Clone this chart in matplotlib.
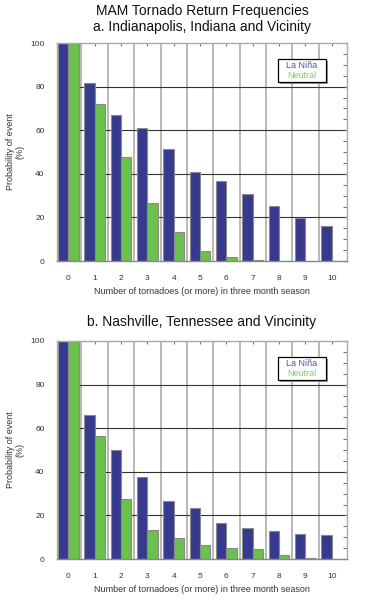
import numpy as np
import matplotlib
matplotlib.use("Agg")
import matplotlib.pyplot as plt
from matplotlib.ticker import MultipleLocator

plt.rcParams['font.family'] = ['Liberation Sans', 'DejaVu Sans']

counts = np.arange(11)
tick_labels = [str(c) for c in counts]

# Indianapolis (MAM)
indy_nina    = [100, 81.8, 67.2, 60.9, 51.2, 40.6, 36.6, 30.8, 25.3, 19.9, 16.1]
indy_neutral = [100, 71.8, 47.7, 26.7, 13.2, 4.8, 1.8, 0.6, 0, 0, 0]

# Nashville (MAM)
nash_nina    = [100, 65.9, 49.9, 37.4, 26.4, 23.2, 16.3, 14.4, 12.8, 11.3, 10.8]
nash_neutral = [100, 56.5, 27.3, 13.1, 9.5, 6.3, 5.2, 4.6, 1.8, 0.5, 0]

blue = '#363a8e'
green = '#6cc04c'
W, H = 371, 600

fig = plt.figure(figsize=(W/100, H/100), dpi=100)


def panel(top, nina, neutral):
    left, right, bottom = 57, 347, top + 218
    ax = fig.add_axes([left/W, 1 - bottom/H, (right-left)/W, 218/H])
    ax.set_xlim(-0.43, 10.58)
    ax.set_ylim(0, 100)
    # grid
    for xb in np.arange(0.5, 10, 1):
        ax.axvline(xb, color='#b8b8b8', lw=1.4, zorder=0)
    for yg in [20, 40, 60, 80]:
        ax.axhline(yg, color='#333333', lw=0.8, zorder=0)
    w = 0.39
    ax.bar(counts, nina, width=-w, align='edge', color=blue,
           edgecolor='#8a8a8a', lw=0.8, zorder=2)
    ax.bar(counts, neutral, width=w, align='edge', color=green,
           edgecolor='#8a8a8a', lw=0.8, zorder=2)
    ax.set_xticks(counts)
    ax.set_xticklabels(tick_labels)
    ax.set_yticks([0, 20, 40, 60, 80, 100])
    ax.yaxis.set_minor_locator(MultipleLocator(5))
    ax.tick_params(axis='y', which='both', direction='in', right=True,
                   labelsize=6, pad=9, length=3, color='#555555', labelcolor='#333333')
    ax.tick_params(axis='x', direction='in', top=True, bottom=False,
                   labelsize=6, pad=10, length=2.5, color='#777777', labelcolor='#333333')
    for s in ax.spines.values():
        s.set_color('#aaaaaa')
        s.set_linewidth(1.0)
    ax.spines['bottom'].set_color('#888888')
    ax.set_xlabel('Number of tornadoes (or more) in three month season',
                  fontsize=6.5, color='#333333', labelpad=4)
    ax.set_ylabel('Probability of event\n(%)', fontsize=6.5, color='#333333',
                  labelpad=4, linespacing=1.1)
    # legend box
    ax.add_patch(plt.Rectangle((0.768, 0.813), 0.166, 0.106, transform=ax.transAxes,
                               facecolor='#999999', edgecolor='none', zorder=3))
    ax.add_patch(plt.Rectangle((0.762, 0.821), 0.166, 0.106, transform=ax.transAxes,
                               facecolor='white', edgecolor='black', lw=0.9, zorder=4))
    ax.text(0.845, 0.898, 'La Niña', transform=ax.transAxes, ha='center', va='center',
            fontsize=6.5, color='#5050b0', zorder=5)
    ax.text(0.845, 0.850, 'Neutral', transform=ax.transAxes, ha='center', va='center',
            fontsize=6.5, color='#80d060', zorder=5)
    return ax


panel(43, indy_nina, indy_neutral)
panel(341, nash_nina, nash_neutral)

cx = 202 / W
fig.text(cx, 1 - 11/H, 'MAM Tornado Return Frequencies', ha='center', va='center',
         fontsize=10, color='#111111')
fig.text(cx, 1 - 27.5/H, 'a. Indianapolis, Indiana and Vicinity', ha='center', va='center',
         fontsize=10, color='#111111')
fig.text(cx, 1 - 322/H, 'b. Nashville, Tennessee and Vincinity', ha='center', va='center',
         fontsize=10, color='#111111')

fig.savefig('out.png', dpi=100)
